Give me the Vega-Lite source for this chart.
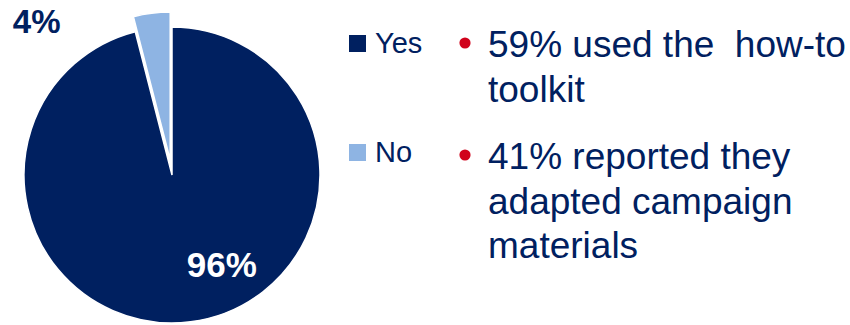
{
  "$schema": "https://vega.github.io/schema/vega-lite/v6.json",
  "padding": 0,
  "background": "white",
  "config": {
    "view": {"stroke": null},
    "font": "Liberation Sans",
    "concat": {"spacing": 115},
    "legend": {
      "orient": "none",
      "legendX": 343,
      "legendY": 29,
      "symbolType": "square",
      "symbolSize": 290,
      "symbolStrokeWidth": 0,
      "labelFontSize": 29,
      "labelFont": "Liberation Sans",
      "labelColor": "#002060",
      "labelOffset": 3,
      "rowPadding": 79,
      "padding": 0
    }
  },
  "hconcat": [
    {
      "width": 344,
      "height": 350,
      "data": {
        "values": [
          {"Category": "Yes", "pct": 96, "label": "96%"},
          {"Category": "No", "pct": 4, "label": "4%"}
        ]
      },
      "encoding": {
        "theta": {"field": "pct", "type": "quantitative", "stack": true},
        "order": {"field": "Category", "sort": "descending"}
      },
      "layer": [
        {
          "mark": {"type": "arc", "outerRadius": 148, "stroke": "white", "strokeWidth": 1.5},
          "encoding": {
            "color": {
              "field": "Category",
              "type": "nominal",
              "scale": {"domain": ["Yes", "No"], "range": ["#002060", "#8EB4E3"]},
              "legend": {"title": null}
            },
            "opacity": {"condition": {"test": "datum.Category === 'No'", "value": 0}, "value": 1}
          }
        },
        {
          "mark": {"type": "arc", "outerRadius": 148, "stroke": "white", "strokeWidth": 1.5, "xOffset": -1.8, "yOffset": -15},
          "encoding": {
            "color": {"field": "Category", "type": "nominal"},
            "opacity": {"condition": {"test": "datum.Category === 'Yes'", "value": 0}, "value": 1}
          }
        },
        {
          "mark": {"type": "text", "radius": 102, "dx": 37, "dy": -10, "fontSize": 35, "fontWeight": "bold", "color": "white", "baseline": "middle", "align": "center"},
          "encoding": {
            "text": {"field": "label"},
            "opacity": {"condition": {"test": "datum.Category === 'No'", "value": 0}, "value": 1}
          }
        },
        {
          "mark": {"type": "text", "radius": 170, "dx": -114, "dy": 17, "fontSize": 33, "fontWeight": "bold", "color": "#002060", "baseline": "middle", "align": "center"},
          "encoding": {
            "text": {"field": "label"},
            "opacity": {"condition": {"test": "datum.Category === 'Yes'", "value": 0}, "value": 1}
          }
        }
      ]
    },
    {
      "width": 387,
      "height": 325,
      "data": {
        "values": [
          {"item": 1, "lines": ["59% used the \u00a0how-to", "toolkit"]},
          {"item": 2, "lines": ["41% reported they", "adapted campaign", "materials"]}
        ]
      },
      "encoding": {
        "y": {"field": "item", "type": "ordinal", "scale": {"type": "point", "range": [43, 155], "padding": 0}, "axis": null}
      },
      "layer": [
        {
          "mark": {"type": "point", "filled": true, "shape": "circle", "size": 125, "color": "#D0021B", "opacity": 1},
          "encoding": {"x": {"value": 0}}
        },
        {
          "mark": {"type": "text", "align": "left", "baseline": "alphabetic", "dx": 23, "dy": 14, "fontSize": 37, "lineHeight": 44.5, "color": "#002060"},
          "encoding": {"x": {"value": 0}, "text": {"field": "lines"}}
        }
      ]
    }
  ]
}
